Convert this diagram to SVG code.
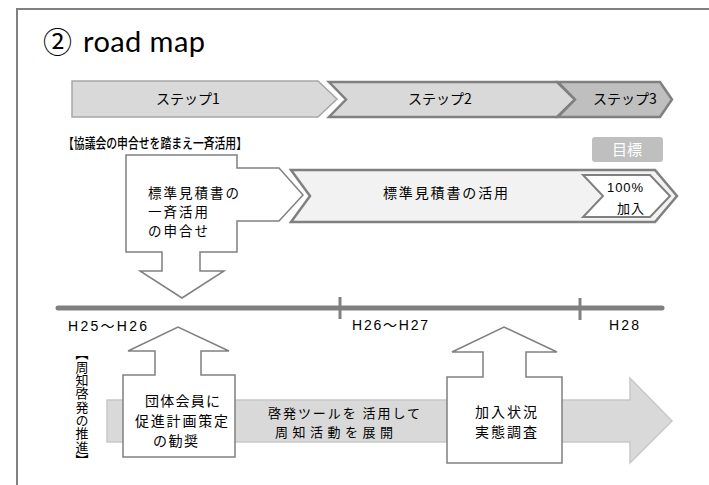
<svg xmlns="http://www.w3.org/2000/svg" width="709" height="485" viewBox="0 0 709 485">
<style>
.jp{font-family:"Noto Sans CJK JP","Noto Sans",sans-serif;fill:#000}
.en{font-family:"Liberation Sans","Noto Sans CJK JP",Arial,sans-serif;fill:#000}
.box{fill:#fff;stroke:#808080;stroke-width:1.5}
.step{fill:#d9d9d9;stroke:#808080;stroke-width:2.5}
</style>
<rect x="0" y="0" width="709" height="485" fill="#fff"/>
<rect x="17" y="9" width="720" height="500" fill="none" stroke="#808080" stroke-width="2"/>
<text x="43" y="53" font-family="'Noto Sans CJK JP',sans-serif" font-size="29" fill="#000">②</text>
<text x="83" y="52" font-family="Lato,'Noto Sans',sans-serif" font-size="29" fill="#000" textLength="122">road map</text>

<g id="step1">
<polygon points="72,81 318,81 337,99 318,117 72,117" fill="#d9d9d9" stroke="#a6a6a6" stroke-width="1.5"/>
<text class="jp" x="188" y="104" font-size="14" text-anchor="middle">ステップ1</text>
</g>
<g id="step2">
<polygon class="step" points="329,82 557,82 575,99.5 557,117 329,117 346,99.5"/>
<text class="jp" x="440" y="104" font-size="14" text-anchor="middle">ステップ2</text>
</g>
<g id="step3">
<polygon points="558,82 660,82 672,99.5 660,117 558,117 575,99.5" fill="#bfbfbf" stroke="#808080" stroke-width="2.5"/>
<text class="jp" x="625" y="104" font-size="14" text-anchor="middle">ステップ3</text>
</g>

<text id="policy" class="jp" x="63" y="148" font-size="14" font-weight="500" textLength="184" lengthAdjust="spacingAndGlyphs">【協議会の申合せを踏まえ一斉活用】</text>

<g id="goal">
<rect x="592" y="137" width="71" height="25" rx="3" fill="#bfbfbf"/>
<text class="jp" x="627" y="155" font-size="15" text-anchor="middle" style="fill:#fff">目標</text>
</g>

<g id="usage">
<polygon points="291,170 655,170 677,196 655,222 291,222 310,196" fill="#f2f2f2" stroke="#808080" stroke-width="2.5"/>
<text class="jp" x="383" y="198" font-size="14" textLength="125">標準見積書の活用</text>
</g>
<g id="target">
<polygon points="583,175 650,175 670,196 650,217 583,217 603,196" fill="#fff" stroke="#808080" stroke-width="2"/>
<text class="en" x="607" y="192" font-size="13" textLength="36">100%</text>
<text class="jp" x="617" y="213" font-size="13" textLength="27">加入</text>
</g>

<g id="callout-agreement">
<polygon class="box" points="126,155 237,155 237,168 279,168 303,195 279,221 237,221 237,252 200,252 200,271 224,271 182,298 140,271 162,271 162,252 126,252"/>
<text class="jp" x="148" y="198" font-size="13.5" textLength="91">標準見積書の</text>
<text class="jp" x="148" y="217" font-size="13.5" textLength="60">一斉活用</text>
<text class="jp" x="148" y="236" font-size="13.5" textLength="60">の申合せ</text>
</g>

<g id="timeline">
<line x1="58" y1="308" x2="662" y2="308" stroke="#808080" stroke-width="5" stroke-linecap="round"/>
<line x1="340" y1="297" x2="340" y2="319" stroke="#808080" stroke-width="3"/>
<line x1="580" y1="298" x2="580" y2="320" stroke="#808080" stroke-width="3"/>
<text class="en" x="68" y="331" font-size="14" textLength="79">H25～H26</text>
<text class="en" x="352" y="330" font-size="14" textLength="76">H26～H27</text>
<text class="en" x="609" y="330" font-size="14" textLength="30">H28</text>
</g>

<text id="promo-label" class="jp" x="82" y="347" font-size="13" style="writing-mode:vertical-rl" letter-spacing="0.3">【周知啓発の推進】</text>

<g id="connectors">
<polygon id="promo-arrow" points="107,400 630,400 630,378 672,421 630,463 630,442 107,442" fill="#d9d9d9" stroke="#c8c8c8" stroke-width="1.5"/>
</g>
<text class="jp" x="268" y="418" font-size="13" textLength="152">啓発ツールを 活用して</text>
<text class="jp" x="275" y="437" font-size="13" textLength="118">周知活動を展開</text>

<g id="callout-members">
<polygon class="box" points="123,375 155,375 155,351 128,351 178,327 229,351 201,351 201,375 235,375 235,457 123,457"/>
<text class="jp" x="145" y="406" font-size="14" textLength="75">団体会員に</text>
<text class="jp" x="135" y="426" font-size="14" textLength="93">促進計画策定</text>
<text class="jp" x="153" y="446" font-size="14" textLength="45">の勧奨</text>
</g>

<g id="callout-survey">
<polygon class="box" points="447,377 483,377 483,352 452,352 504,327 557,352 526,352 526,377 562,377 562,463 447,463"/>
<text class="jp" x="475" y="417" font-size="14" textLength="62">加入状況</text>
<text class="jp" x="475" y="437" font-size="14" textLength="62">実態調査</text>
</g>
</svg>
